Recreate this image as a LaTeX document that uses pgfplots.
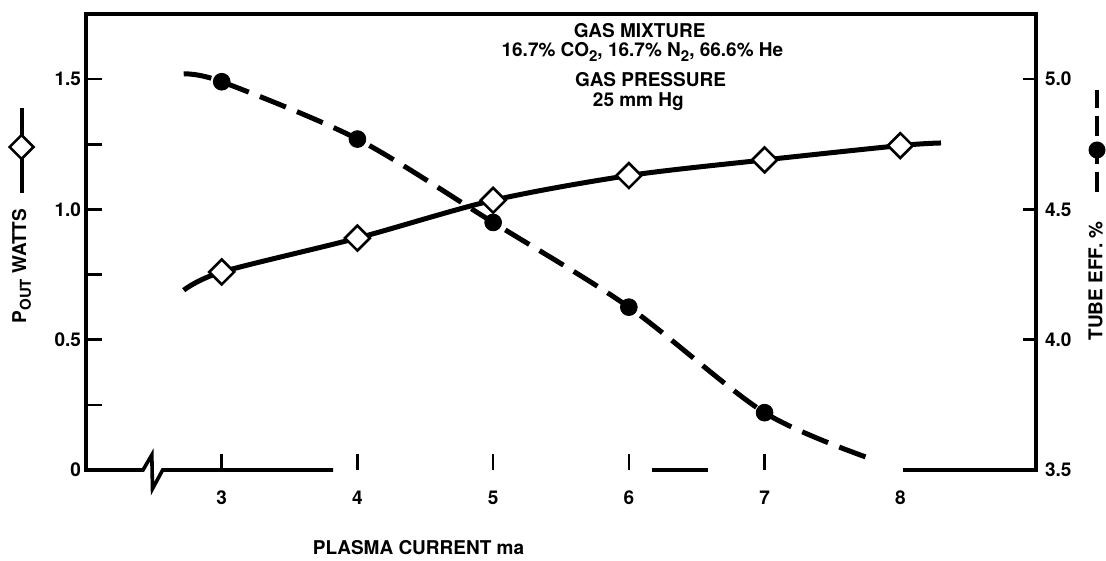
\documentclass[border=0pt]{standalone}
\usepackage{pgfplots}
\pgfplotsset{compat=1.18}
\usetikzlibrary{shapes.geometric}
\usepackage{fontspec}
\setmainfont{TeX Gyre Heros}
\newcommand{\lf}{\bfseries\fontsize{9.5}{11}\selectfont}
\newcommand{\sub}[1]{\raisebox{-0.45ex}{\fontsize{7.5}{8}\selectfont #1}}
\begin{document}
\begin{tikzpicture}
\useasboundingbox (0pt,0pt) rectangle (553pt,280.5pt);
\pgfplotsset{
  common/.style={at={(43pt,45.5pt)}, anchor=south west, scale only axis,
    width=475pt, height=228pt, xmin=2, xmax=9,
    axis line style={draw=none}, tick align=inside,
    tick style={line width=1.3pt, black},
    ticklabel style={font=\lf},
    /pgf/number format/assume math mode=true, clip=false},
}
% right axis: tube efficiency
\begin{axis}[common, ymin=3.5, ymax=5.25, xtick=\empty,
  ytick={3.5,4,4.5,5}, yticklabels={3.5,4.0,4.5,5.0},
  ytick pos=right, major tick length=6.5pt, yticklabel style={xshift=1pt}]
\addplot[smooth, line width=2.5pt, dash pattern=on 14pt off 6pt]
  coordinates {(2.72,5.02) (3,4.99) (4,4.77) (5,4.45) (6,4.125) (7,3.72) (7.8,3.54)};
\addplot[only marks, mark=*, mark size=4.2pt, black]
  coordinates {(3,4.99) (4,4.77) (5,4.45) (6,4.125) (7,3.72)};
\end{axis}
% left axis: output power
\begin{axis}[common, ymin=0, ymax=1.75,
  xtick={3,4,5,6,7}, extra x ticks={8}, extra x tick style={major tick length=0pt},
  ytick={0,0.5,1,1.5}, yticklabels={0,0.5,1.0,1.5},
  minor ytick={0.25,0.75,1.25},
  xtick pos=bottom, ytick pos=left,
  major tick length=8pt, minor tick length=8pt,
  yticklabel style={xshift=1pt}, xticklabel style={yshift=-7pt}]
\draw[line width=1.8pt, line join=miter] (axis cs:2.42,0) -- (axis cs:2,0) -- (axis cs:2,1.75) -- (axis cs:9,1.75) -- (axis cs:9,0) -- (axis cs:8.02,0);
\draw[line width=1.8pt, line join=miter] (axis cs:2.4,0) -- (axis cs:2.42,0) -- (axis cs:2.485,0.058) -- (axis cs:2.49,-0.072) -- (axis cs:2.565,0) -- (axis cs:3.82,0);
\draw[line width=1.8pt] (axis cs:6.17,0) -- (axis cs:6.58,0);
\addplot[smooth, line width=2.5pt]
  coordinates {(2.72,0.69) (3,0.76) (4,0.89) (5,1.035) (6,1.13) (7,1.19) (8,1.245) (8.3,1.255)};
\addplot[only marks, mark=square*, mark size=4.4pt, mark options={rotate=45, fill=white, draw=black, line width=1.3pt}]
  coordinates {(3,0.76) (4,0.89) (5,1.035) (6,1.13) (7,1.19) (8,1.245)};
\node[font=\lf] at ([yshift=-39pt]axis cs:4.45,0) {PLASMA CURRENT ma};
\node[font=\lf, inner sep=0pt] at (axis cs:6.08,1.688) {GAS MIXTURE};
\node[font=\lf, inner sep=0pt] at (axis cs:6.1,1.604) {16.7\% CO\sub{2}, 16.7\% N\sub{2}, 66.6\% He};
\node[font=\lf, inner sep=0pt] at (axis cs:6.16,1.497) {GAS PRESSURE};
\node[font=\lf, inner sep=0pt] at (axis cs:6.07,1.412) {25 mm Hg};
\end{axis}
% axis titles with their key glyphs
\node[rotate=90, font=\lf, inner sep=0pt] at (10.8pt,147.5pt)
  {P\sub{OUT} WATTS};
\draw[line width=2pt] (10.8pt,184pt) -- (10.8pt,226.5pt);
\node[diamond, aspect=1, draw, line width=1.3pt, fill=white, minimum size=12.5pt, inner sep=0pt] at (10.8pt,207pt) {};
\node[rotate=90, font=\lf, inner sep=0pt] at (547.8pt,140pt) {TUBE EFF. \%};
\draw[line width=2pt, dash pattern=on 10pt off 4pt] (548.5pt,184.5pt) -- (548.5pt,235.5pt);
\node[circle, fill, minimum size=8.5pt, inner sep=0pt] at (548.5pt,205.5pt) {};
\end{tikzpicture}
\end{document}
